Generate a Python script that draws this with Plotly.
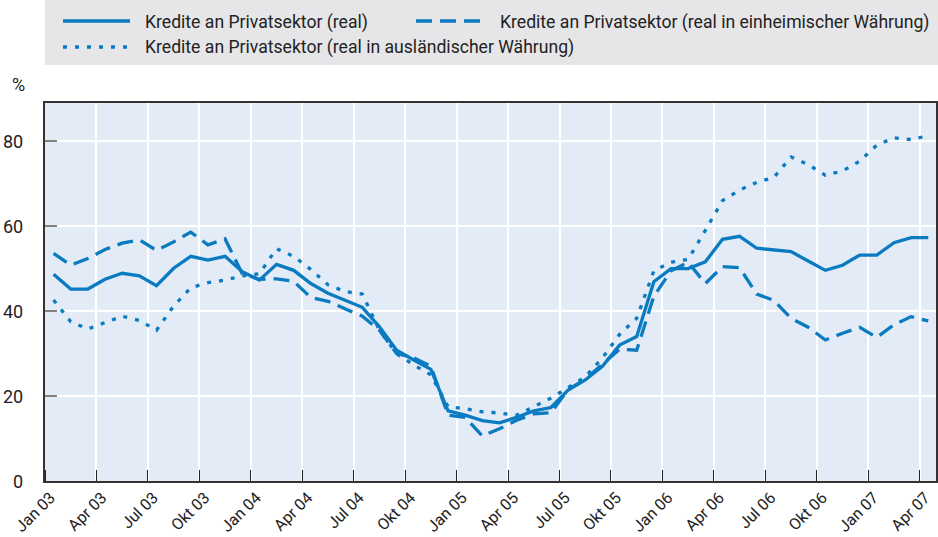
import plotly.graph_objects as go

months = ["Jan 03", "Feb 03", "Mär 03", "Apr 03", "Mai 03", "Jun 03", "Jul 03", "Aug 03", "Sep 03", "Okt 03", "Nov 03", "Dez 03",
          "Jan 04", "Feb 04", "Mär 04", "Apr 04", "Mai 04", "Jun 04", "Jul 04", "Aug 04", "Sep 04", "Okt 04", "Nov 04", "Dez 04",
          "Jan 05", "Feb 05", "Mär 05", "Apr 05", "Mai 05", "Jun 05", "Jul 05", "Aug 05", "Sep 05", "Okt 05", "Nov 05", "Dez 05",
          "Jan 06", "Feb 06", "Mär 06", "Apr 06", "Mai 06", "Jun 06", "Jul 06", "Aug 06", "Sep 06", "Okt 06", "Nov 06", "Dez 06",
          "Jan 07", "Feb 07", "Mär 07", "Apr 07"]

real = [48.7, 45.2, 45.2, 47.5, 48.9, 48.3, 46.0, 50.1, 52.9, 52.0, 52.9, 49.3,
        47.3, 51.0, 49.6, 46.5, 44.2, 42.6, 40.9, 36.3, 30.8, 28.5, 26.3, 16.5,
        15.5, 14.2, 13.7, 15.0, 16.5, 17.3, 21.4, 23.8, 27.0, 32.0, 34.0, 46.9,
        50.0, 50.0, 51.6, 56.9, 57.6, 54.8, 54.4, 54.0, 51.8, 49.6, 50.8, 53.2,
        53.2, 56.1, 57.3, 57.3]

real_domestic = [53.6, 50.8, 52.4, 54.5, 56.0, 56.8, 54.3, 56.3, 58.6, 55.6, 57.0, 48.8,
                 47.5, 47.6, 47.0, 43.2, 42.3, 40.6, 38.8, 35.5, 30.0, 29.0, 27.0, 15.5,
                 15.0, 10.6, 12.3, 14.3, 15.8, 16.1, 21.5, 24.0, 27.5, 31.0, 30.8, 43.5,
                 49.5, 51.5, 46.5, 50.5, 50.2, 44.0, 42.5, 38.3, 36.2, 33.2, 34.8, 36.2,
                 33.8, 36.8, 38.7, 37.7]

real_foreign = [42.6, 37.5, 35.8, 37.2, 38.8, 37.8, 35.5, 41.2, 45.5, 46.7, 47.3, 48.3,
                48.8, 54.7, 52.9, 49.8, 46.2, 44.6, 44.0, 35.5, 30.0, 27.3, 25.0, 17.5,
                17.0, 16.3, 16.0, 15.5, 17.5, 19.5, 22.0, 24.5, 29.0, 34.5, 38.3, 49.5,
                51.5, 52.2, 59.0, 66.0, 68.5, 70.3, 71.5, 76.3, 74.5, 72.0, 73.0, 75.3,
                79.1, 80.8, 80.4, 81.3]

series_names = ["Kredite an Privatsektor (real)",
                "Kredite an Privatsektor (real in einheimischer Währung)",
                "Kredite an Privatsektor (real in ausländischer Währung)"]

y_ticks = [0, 20, 40, 60, 80]

FONT = "Roboto, Liberation Sans, sans-serif"
BLUE = "#0a7bc1"
TXT = "#222222"
DASHES = ["solid", "16px,8px", "4px,8px"]

x = list(range(len(months)))
label_idx = x[::3]
label_text = [months[i] for i in label_idx]
boundaries = [i - 0.5 for i in label_idx]

W, H = 938, 537
ml, mr, mt, mb = 45, 2, 103, 56
pw, ph = W - ml - mr, H - mt - mb


def px(xp):
    return (xp - ml) / pw


def py(yp):
    return 1 + (mt - yp) / ph


fig = go.Figure()
for vals, name, dash in zip([real, real_domestic, real_foreign], series_names, DASHES):
    fig.add_trace(go.Scatter(x=x, y=vals, mode="lines", name=name, showlegend=False,
                             line=dict(color=BLUE, width=3.3, dash=dash)))

# legend panel
fig.add_shape(type="rect", xref="paper", yref="paper",
              x0=0, x1=px(W), y0=py(65), y1=py(0),
              fillcolor="#e6e6e8", line=dict(width=0), layer="below")
legend_pos = [(63, 21, 143), (416, 21, 498), (63, 47, 143)]
for (lx, ly, tx), name, dash in zip(legend_pos, series_names, DASHES):
    fig.add_shape(type="line", xref="paper", yref="paper",
                  x0=px(lx), x1=px(lx + 67), y0=py(ly), y1=py(ly),
                  line=dict(color=BLUE, width=3.3, dash=dash))
    fig.add_annotation(text=name, xref="paper", yref="paper", x=px(tx), y=py(ly + 1),
                       xanchor="left", yanchor="middle", showarrow=False,
                       font=dict(family=FONT, size=17.6, color=TXT))

fig.add_annotation(text="%", xref="paper", yref="paper",
                   x=px(18), y=py(84), xanchor="center", yanchor="middle", showarrow=False,
                   font=dict(family=FONT, size=18, color=TXT))

# y-axis tick labels
for v in y_ticks:
    fig.add_annotation(text=str(v), xref="paper", yref="y", x=px(25), y=v,
                       xanchor="right", yanchor="middle", showarrow=False,
                       font=dict(family=FONT, size=18, color=TXT))

fig.update_layout(
    width=W, height=H,
    margin=dict(l=ml, r=mr, t=mt, b=mb, autoexpand=False),
    paper_bgcolor="white",
    plot_bgcolor="#e3ebf6",
    font=dict(family=FONT, color=TXT),
    showlegend=False,
    xaxis=dict(range=[-0.5, 51.45], tickmode="array", tickvals=label_idx, ticktext=label_text,
               tickangle=-45, ticks="", showgrid=False, zeroline=False, automargin=False,
               ticklabelstandoff=-1, ticklabelshift=-3,
               tickfont=dict(family=FONT, size=16, color=TXT),
               showline=True, linecolor="#333333", linewidth=2, mirror=True,
               minor=dict(tickmode="array", tickvals=boundaries, ticks="inside",
                          ticklen=11, tickwidth=1, tickcolor="#222222",
                          showgrid=True, gridcolor="white", gridwidth=2)),
    yaxis=dict(range=[0, 89], tickmode="array", tickvals=y_ticks, automargin=False,
               showticklabels=False,
               ticks="inside", ticklen=12, tickwidth=2, tickcolor="#808080",
               showgrid=True, gridcolor="white", gridwidth=2, zeroline=False,
               showline=True, linecolor="#333333", linewidth=2, mirror=True),
)

fig.write_html("out.html", config={"displayModeBar": False},
               post_script="document.body.style.margin='0';document.body.style.overflow='hidden';")
